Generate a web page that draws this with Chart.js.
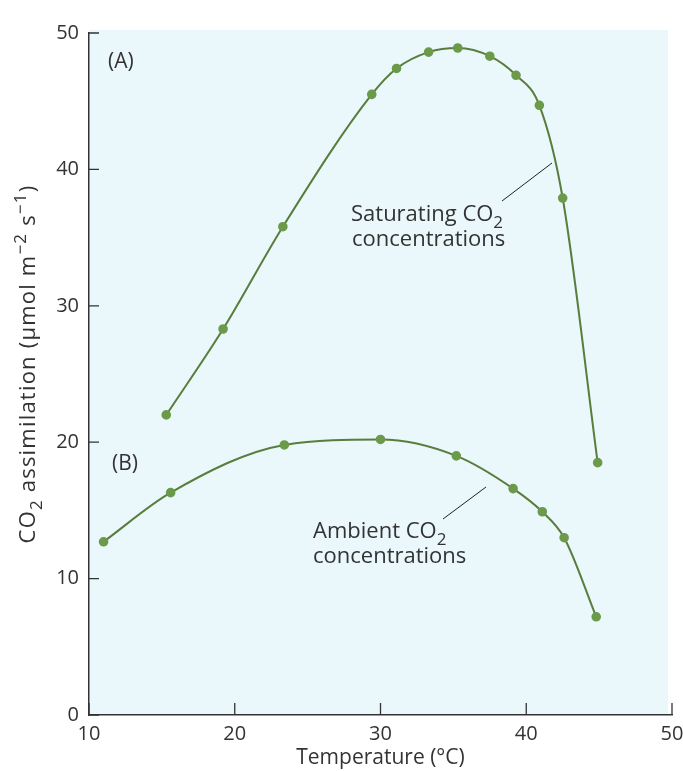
<!DOCTYPE html>
<html>
<head>
<meta charset="utf-8">
<script src="https://cdn.jsdelivr.net/npm/chart.js@4.4.1/dist/chart.umd.min.js"></script>
<style>
  html, body { margin: 0; padding: 0; background: #fff; }
  #wrap { width: 683px; height: 771px; }
</style>
</head>
<body>
<div id="wrap"><canvas id="chart"></canvas></div>
<script>
// Temperature (°C) and CO2 assimilation values
const tempSaturating = [15.3, 19.2, 23.3, 29.4, 31.1, 33.3, 35.3, 37.5, 39.3, 40.9, 42.5, 44.9];
const co2Saturating  = [22.0, 28.3, 35.8, 45.5, 47.4, 48.6, 48.9, 48.3, 46.9, 44.7, 37.9, 18.5];
const tempAmbient    = [11.0, 15.6, 23.4, 30.0, 35.2, 39.1, 41.1, 42.6, 44.8];
const co2Ambient     = [12.7, 16.3, 19.8, 20.2, 19.0, 16.6, 14.9, 13.0, 7.2];
const xTicks = [10, 20, 30, 40, 50];
const yTicks = [0, 10, 20, 30, 40, 50];

const FONT = "'Open Sans', 'Noto Sans', sans-serif";
const TEXT = '#333';
const LINE = '#587d3c';
const DOT = '#6b9a4a';

function toPoints(xs, ys) {
    return xs.map((x, i) => ({ x: x, y: ys[i] }));
}

// draws text made of normal / subscript / superscript pieces
function drawRich(ctx, parts, x, y, size, align, spacing) {
    const fontFor = m => (m === 'n' ? size : Math.round(size * 0.75)) + 'px ' + FONT;
    ctx.letterSpacing = (spacing || 0) + 'px';
    let total = 0;
    const widths = parts.map(([t, m]) => {
        ctx.font = fontFor(m);
        const w = ctx.measureText(t).width;
        total += w;
        return w;
    });
    let cx = align === 'center' ? x - total / 2 : x;
    ctx.textAlign = 'left';
    ctx.textBaseline = 'alphabetic';
    parts.forEach(([t, m], i) => {
        ctx.font = fontFor(m);
        const dy = m === 'sub' ? size * 0.3 : (m === 'sup' ? -size * 0.42 : 0);
        ctx.fillText(t, cx, y + dy);
        cx += widths[i];
    });
    ctx.letterSpacing = '0px';
}

const plotBackground = {
    id: 'plotBackground',
    beforeDraw(chart) {
        const { ctx, chartArea } = chart;
        ctx.save();
        ctx.fillStyle = '#eaf7fb';
        ctx.fillRect(chartArea.left, chartArea.top - 3, chartArea.right - chartArea.left - 4, chartArea.bottom - chartArea.top + 3);
        ctx.restore();
    }
};

// inward tick marks, like the printed figure
const innerTicks = {
    id: 'innerTicks',
    afterDraw(chart) {
        const { ctx, chartArea, scales } = chart;
        ctx.save();
        ctx.strokeStyle = TEXT;
        ctx.lineWidth = 1.3;
        ctx.beginPath();
        yTicks.forEach(v => {
            const py = scales.y.getPixelForValue(v);
            ctx.moveTo(chartArea.left, py);
            ctx.lineTo(chartArea.left + 10, py);
        });
        xTicks.forEach(v => {
            const px = scales.x.getPixelForValue(v);
            ctx.moveTo(px, chartArea.bottom);
            ctx.lineTo(px, chartArea.bottom - 12);
        });
        ctx.stroke();
        ctx.restore();
    }
};

const labels = {
    id: 'labels',
    afterDatasetsDraw(chart) {
        const { ctx } = chart;
        ctx.save();
        ctx.fillStyle = TEXT;
        drawRich(ctx, [['(A)', 'n']], 108, 68, 21, 'left');
        drawRich(ctx, [['(B)', 'n']], 112, 470, 21, 'left');
        drawRich(ctx, [['Saturating CO', 'n'], ['2', 'sub']], 351, 221, 22, 'left');
        drawRich(ctx, [['concentrations', 'n']], 352, 246, 22, 'left');
        drawRich(ctx, [['Ambient CO', 'n'], ['2', 'sub']], 313, 538, 22, 'left');
        drawRich(ctx, [['concentrations', 'n']], 313, 563, 22, 'left');

        ctx.strokeStyle = '#222';
        ctx.lineWidth = 1;
        ctx.beginPath();
        ctx.moveTo(502, 201); ctx.lineTo(552, 163);
        ctx.moveTo(443, 519); ctx.lineTo(486, 487);
        ctx.stroke();

        // y axis title
        ctx.translate(24, 364);
        ctx.rotate(-Math.PI / 2);
        drawRich(ctx, [
            ['CO', 'n'], ['2', 'sub'], [' assimilation (\u03bcmol m', 'n'], ['\u22122', 'sup'],
            [' s', 'n'], ['\u22121', 'sup'], [')', 'n']
        ], 0, 11, 22, 'center', 1.2);
        ctx.restore();
    }
};

new Chart(document.getElementById('chart'), {
    type: 'line',
    data: {
        datasets: [
            {
                label: 'Saturating CO2 concentrations',
                data: toPoints(tempSaturating, co2Saturating),
                borderColor: LINE,
                backgroundColor: DOT,
                pointBackgroundColor: DOT,
                pointBorderColor: DOT,
                borderWidth: 2,
                pointRadius: 3.8,
                cubicInterpolationMode: 'monotone',
                fill: false
            },
            {
                label: 'Ambient CO2 concentrations',
                data: toPoints(tempAmbient, co2Ambient),
                borderColor: LINE,
                backgroundColor: DOT,
                pointBackgroundColor: DOT,
                pointBorderColor: DOT,
                borderWidth: 2,
                pointRadius: 3.8,
                cubicInterpolationMode: 'monotone',
                fill: false
            }
        ]
    },
    options: {
        responsive: true,
        maintainAspectRatio: false,
        animation: false,
        layout: { padding: { left: 0, right: 11, top: 33, bottom: 0 } },
        plugins: {
            legend: { display: false },
            tooltip: { enabled: false }
        },
        scales: {
            x: {
                type: 'linear',
                min: 10,
                max: 50,
                afterFit(scale) {
                    scale.height = 56;
                    scale.paddingLeft = 0;
                    scale.paddingRight = 0;
                },
                afterBuildTicks(scale) { scale.ticks = xTicks.map(v => ({ value: v })); },
                ticks: { color: TEXT, font: { family: FONT, size: 20 }, padding: 7, autoSkip: false, maxRotation: 0 },
                grid: { display: false, drawTicks: false },
                border: { display: true, color: TEXT, width: 1.5 },
                title: {
                    display: true,
                    text: 'Temperature (\u00b0C)',
                    color: TEXT,
                    font: { family: FONT, size: 21 },
                    padding: { top: 0, bottom: 0 }
                }
            },
            y: {
                type: 'linear',
                min: 0,
                max: 50,
                afterFit(scale) { scale.width = 89; },
                afterBuildTicks(scale) { scale.ticks = yTicks.map(v => ({ value: v })); },
                ticks: { color: TEXT, font: { family: FONT, size: 20 }, padding: 10 },
                grid: { display: false, drawTicks: false },
                border: { display: true, color: TEXT, width: 1.5 }
            }
        }
    },
    plugins: [plotBackground, innerTicks, labels]
});
</script>
</body>
</html>
